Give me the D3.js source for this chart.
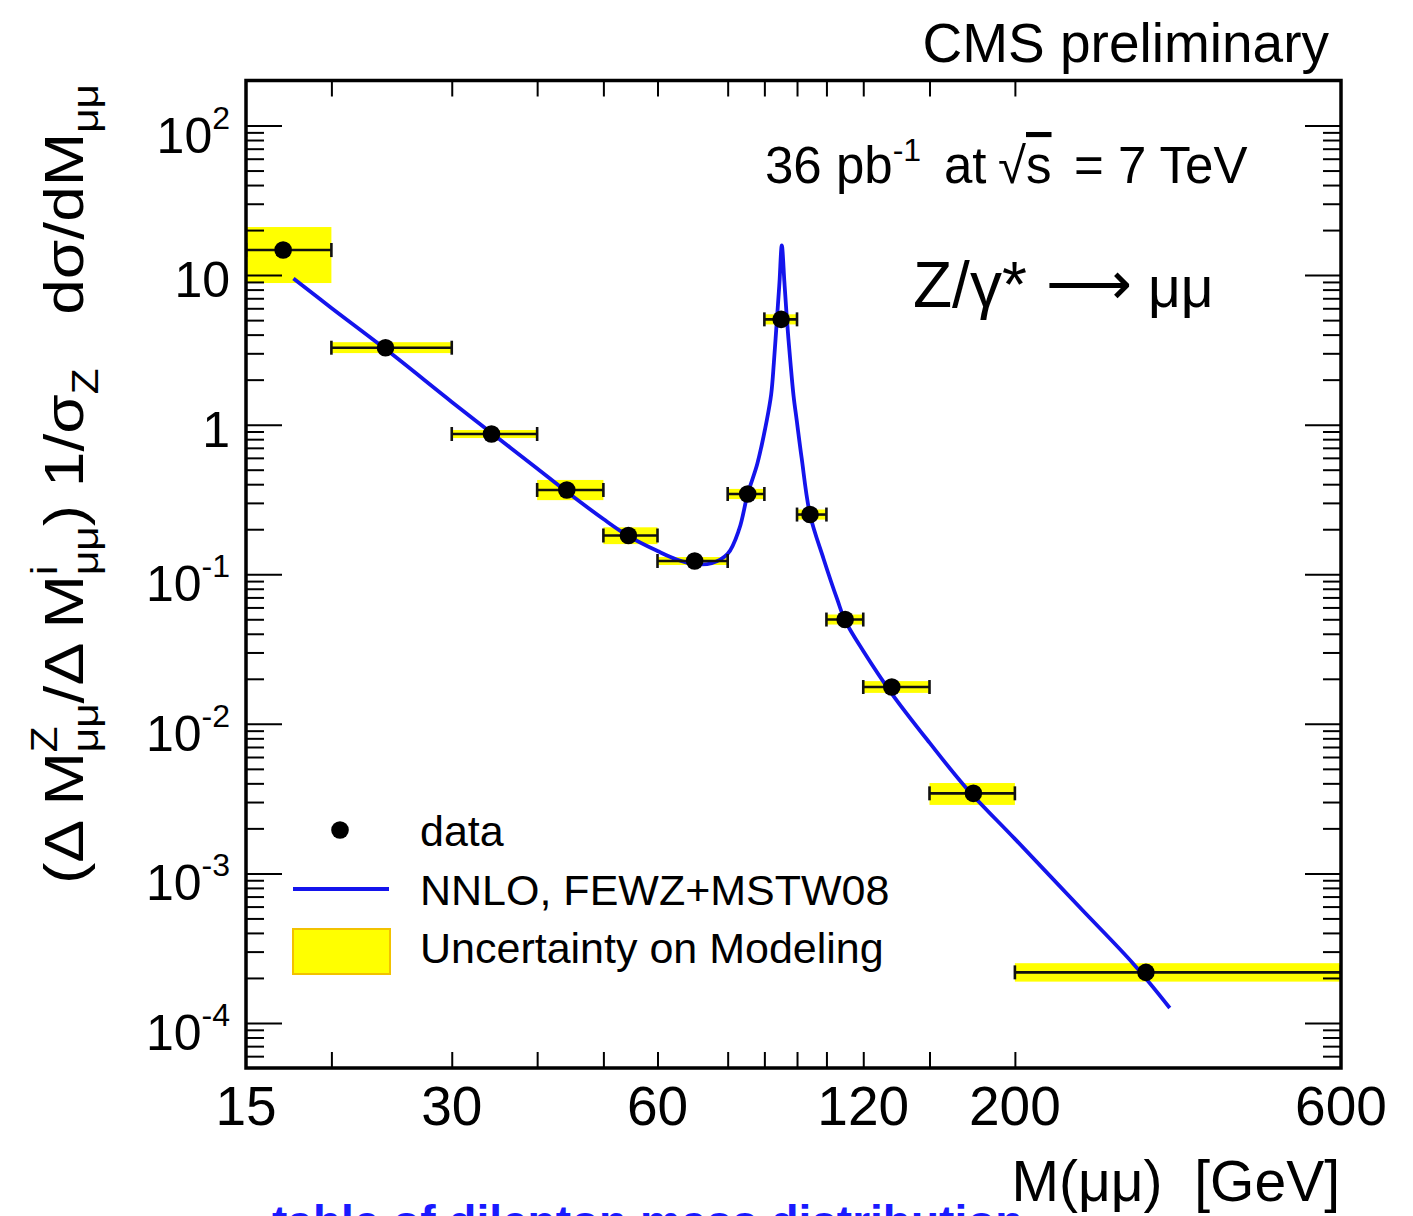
<!DOCTYPE html>
<html>
<head>
<meta charset="utf-8">
<script src="https://cdn.jsdelivr.net/npm/d3@7"></script>
<style>
  body { margin: 0; background: #fff; }
  svg { display: block; }
  text { font-family: "Liberation Sans", Arial, Helvetica, sans-serif; fill: #000; }
</style>
</head>
<body>
<svg id="chart" width="1413" height="1216"></svg>
<script>
// ---- data -------------------------------------------------------------
// dimuon mass bins [GeV]
const binEdges = [15, 20, 30, 40, 50, 60, 76, 86, 96, 106, 120, 150, 200, 600];
// measured points (mass position inside each bin, normalised cross section)
const dataMass  = [17.0, 24.0, 34.3, 44.2, 54.4, 68.0, 81.3, 91.0, 100.3, 112.9, 132.1, 173.9, 311];
const dataValue = [14.7, 3.27, 0.866, 0.366, 0.1816, 0.1226, 0.344, 5.06, 0.2507, 0.0498, 0.01762, 0.00343, 0.000218];
// modelling-uncertainty band per bin
const bandLow  = [8.85, 3.01, 0.814, 0.313, 0.159, 0.1153, 0.318, 4.68, 0.232, 0.0461, 0.0161, 0.00287, 0.000189];
const bandHigh = [20.96, 3.56, 0.921, 0.427, 0.206, 0.1304, 0.372, 5.47, 0.271, 0.0538, 0.0193, 0.00402, 0.000251];
// NNLO FEWZ+MSTW08 prediction
const theoryMass  = [17.6, 20, 24, 30, 34.3, 40, 44.2, 50, 54.4, 60, 64, 68, 72, 76, 79, 81.3, 84, 86.7,
                     88.0, 88.8, 89.7, 90.5, 91.2, 92.0, 92.8, 93.9, 94.9, 95.9, 97.5, 100.3, 105, 110,
                     112.9, 120, 132, 150, 170, 200, 250, 298, 337];
const theoryValue = [9.5, 6.03, 3.2, 1.42, 0.881, 0.509, 0.356, 0.234, 0.18, 0.143, 0.1255, 0.117, 0.1185, 0.137, 0.2, 0.344, 0.55, 1.07,
                     1.6, 2.6, 5.0, 9.0, 15.8, 9.0, 5.0, 2.6, 1.55, 1.07, 0.6, 0.2507, 0.1265, 0.0673,
                     0.049, 0.0307, 0.016, 0.00748, 0.0037, 0.0017, 0.00058, 0.000249, 0.000126];
// axis labels
const xTickLabels = [15, 30, 60, 120, 200, 600];
const yTickValues = [100, 10, 1, 0.1, 0.01, 0.001, 0.0001];
const yTickBase   = ["10", "10", "1", "10", "10", "10", "10"];
const yTickExp    = ["2", "", "", "-1", "-2", "-3", "-4"];

// ---- layout -----------------------------------------------------------
const svg = d3.select("#chart");
const frame = { left: 246, right: 1341, top: 80.5, bottom: 1068 };
const x = d3.scaleLog().domain([15, 600]).range([frame.left, frame.right]);
const y = d3.scaleLog().domain([5e-5, 200]).range([frame.bottom, frame.top]);
const BLUE = "#1414ec";
const YELLOW = "#ffff00";

svg.append("defs").append("clipPath").attr("id", "plotArea")
  .append("rect")
  .attr("x", frame.left).attr("y", frame.top)
  .attr("width", frame.right - frame.left).attr("height", frame.bottom - frame.top);

const plot = svg.append("g").attr("clip-path", "url(#plotArea)");
const bins = dataMass.map((m, i) => ({
  lo: binEdges[i], hi: binEdges[i + 1], m, v: dataValue[i], bLo: bandLow[i], bHi: bandHigh[i]
}));

// uncertainty bands
plot.selectAll("rect.band").data(bins).join("rect")
  .attr("class", "band")
  .attr("x", d => x(d.lo)).attr("width", d => x(d.hi) - x(d.lo))
  .attr("y", d => y(d.bHi)).attr("height", d => y(d.bLo) - y(d.bHi))
  .attr("fill", YELLOW);

// theory curve
const line = d3.line()
  .x((d, i) => x(theoryMass[i]))
  .y(d => y(d))
  .curve(d3.curveCatmullRom.alpha(0.5));
plot.append("path")
  .attr("d", line(theoryValue))
  .attr("fill", "none").attr("stroke", BLUE).attr("stroke-width", 3.8)
  .attr("stroke-linejoin", "round");

// horizontal bin-width bars with end caps
const bars = plot.selectAll("g.bar").data(bins).join("g").attr("class", "bar")
  .attr("stroke", "#111").attr("stroke-width", 2.6);
bars.append("line")
  .attr("x1", d => x(d.lo)).attr("x2", d => x(d.hi))
  .attr("y1", d => y(d.v)).attr("y2", d => y(d.v));
bars.append("line")
  .attr("x1", d => x(d.lo)).attr("x2", d => x(d.lo))
  .attr("y1", d => y(d.v) - 7).attr("y2", d => y(d.v) + 7);
bars.append("line")
  .attr("x1", d => x(d.hi)).attr("x2", d => x(d.hi))
  .attr("y1", d => y(d.v) - 7).attr("y2", d => y(d.v) + 7);

// data points
plot.selectAll("circle.pt").data(bins).join("circle")
  .attr("class", "pt")
  .attr("cx", d => x(d.m)).attr("cy", d => y(d.v)).attr("r", 8.8)
  .attr("fill", "#000");

// ---- axes -------------------------------------------------------------
const yMinor = [];
for (let e = -5; e <= 2; e++) {
  for (let k = 2; k <= 9; k++) {
    const v = k * Math.pow(10, e);
    if (v > 5.01e-5 && v < 199) yMinor.push(v);
  }
}
const xInner = binEdges.slice(1, -1);

function tickAxis(axis, tx, ty) {
  const g = svg.append("g").attr("transform", `translate(${tx},${ty})`).call(axis);
  g.select(".domain").remove();
  g.selectAll(".tick line").attr("stroke", "#000").attr("stroke-width", 2);
  g.selectAll(".tick text").remove();
  return g;
}
tickAxis(d3.axisLeft(y).tickValues(yTickValues).tickSize(-36).tickFormat(""), frame.left, 0);
tickAxis(d3.axisLeft(y).tickValues(yMinor).tickSize(-18).tickFormat(""), frame.left, 0);
tickAxis(d3.axisRight(y).tickValues(yTickValues).tickSize(-36).tickFormat(""), frame.right, 0);
tickAxis(d3.axisRight(y).tickValues(yMinor).tickSize(-18).tickFormat(""), frame.right, 0);
tickAxis(d3.axisBottom(x).tickValues(xInner).tickSize(-16).tickFormat(""), 0, frame.bottom);
tickAxis(d3.axisTop(x).tickValues(xInner).tickSize(-16).tickFormat(""), 0, frame.top);

svg.append("rect")
  .attr("x", frame.left).attr("y", frame.top)
  .attr("width", frame.right - frame.left).attr("height", frame.bottom - frame.top)
  .attr("fill", "none").attr("stroke", "#000").attr("stroke-width", 3.5);

// y tick labels (powers of ten)
yTickValues.forEach((v, i) => {
  const t = svg.append("text")
    .attr("x", 230).attr("y", y(v) + (yTickExp[i] ? 27 : 22))
    .attr("text-anchor", "end").style("font-size", "50px");
  t.append("tspan").text(yTickBase[i]);
  if (yTickExp[i]) {
    t.append("tspan").attr("dy", -24).style("font-size", "32px").text(yTickExp[i]);
  }
});

// x tick labels
svg.selectAll("text.xl").data(xTickLabels).join("text")
  .attr("class", "xl")
  .attr("x", d => x(d)).attr("y", 1125)
  .attr("text-anchor", "middle").style("font-size", "55px")
  .text(d => d);

// ---- rich text helper: pieces laid out along a baseline ---------------
function richText(g, pieces, size) {
  let cx = 0;
  pieces.forEach(p => {
    if (p.stack) {
      let w = 0;
      p.stack.forEach(s => {
        const t = g.append("text").attr("x", cx).attr("y", s.dy)
          .style("font-size", s.size + "px").text(s.t);
        w = Math.max(w, t.node().getComputedTextLength());
      });
      cx += w;
    } else {
      const t = g.append("text").attr("x", cx).attr("y", p.dy || 0)
        .style("font-size", (p.size || size) + "px").text(p.t);
      cx += t.node().getComputedTextLength();
    }
  });
  return cx;
}

// y axis title
const yTitle = svg.append("g");
const yLen = richText(yTitle.append("g"), [
  { t: "(\u0394 M" },
  { stack: [{ t: "Z", size: 37, dy: -26 }, { t: "\u03bc\u03bc", size: 37, dy: 15 }] },
  { t: "/\u0394 M" },
  { stack: [{ t: "i", size: 37, dy: -26 }, { t: "\u03bc\u03bc", size: 37, dy: 15 }] },
  { t: ") 1/\u03c3" },
  { t: "Z", size: 37, dy: 15 },
  { t: "\u00a0\u00a0 d\u03c3/dM" },
  { t: "\u03bc\u03bc", size: 37, dy: 15 }
], 56);
yTitle.attr("transform", `translate(83,884) rotate(-90) scale(${800 / yLen},1)`);

// x axis title
svg.append("text").attr("x", 1340).attr("y", 1201)
  .attr("text-anchor", "end").style("font-size", "57px")
  .text("M(\u03bc\u03bc)\u00a0 [GeV]");

// header and annotations
svg.append("text").attr("x", 1329).attr("y", 62)
  .attr("text-anchor", "end").style("font-size", "55px")
  .text("CMS preliminary");

const lumi = svg.append("text").attr("y", 183).style("font-size", "51px");
lumi.append("tspan").attr("x", 765).text("36 pb");
lumi.append("tspan").attr("dy", -22).style("font-size", "32px").text("-1");
lumi.append("tspan").attr("x", 944).attr("dy", 22).text("at");
lumi.append("tspan").attr("x", 998).text("\u221a");
lumi.append("tspan").style("text-decoration", "overline").text("s");
lumi.append("tspan").attr("x", 1074).text("= 7 TeV");

const proc = svg.append("text").attr("y", 307).style("font-size", "64px");
proc.append("tspan").attr("x", 913).text("Z/\u03b3*");
proc.append("tspan").attr("x", 1046).attr("dy", -3)
  .style("font-family", "'DejaVu Sans', sans-serif").style("font-size", "60px").text("\u27f6");
proc.append("tspan").attr("x", 1148).attr("dy", 3).style("font-size", "57px").text("\u03bc\u03bc");

// ---- legend -----------------------------------------------------------
const legend = svg.append("g");
legend.append("circle").attr("cx", 340).attr("cy", 830).attr("r", 8.8).attr("fill", "#000");
legend.append("line").attr("x1", 293).attr("x2", 389).attr("y1", 889).attr("y2", 889)
  .attr("stroke", BLUE).attr("stroke-width", 4);
legend.append("rect").attr("x", 293).attr("y", 929).attr("width", 97).attr("height", 45)
  .attr("fill", YELLOW).attr("stroke", "#f2c200").attr("stroke-width", 2);
const legendLabels = ["data", "NNLO, FEWZ+MSTW08", "Uncertainty on Modeling"];
const legendBase = [846, 905, 963];
legendLabels.forEach((s, i) => {
  legend.append("text").attr("x", 420).attr("y", legendBase[i])
    .style("font-size", "43px").text(s);
});

// caption line running off the bottom edge
svg.append("text").attr("x", 272).attr("y", 1238)
  .style("font-size", "46px").style("font-weight", "bold").style("fill", "#1a1aff")
  .text("table of dilepton mass distribution");
</script>
</body>
</html>
